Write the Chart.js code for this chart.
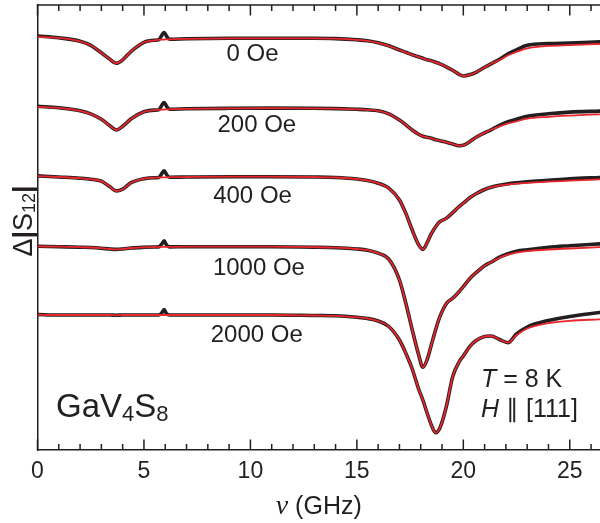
<!DOCTYPE html>
<html>
<head>
<meta charset="utf-8">
<script src="https://cdn.jsdelivr.net/npm/chart.js@4.4.1/dist/chart.umd.min.js"></script>
<style>
  html, body { margin: 0; padding: 0; background: #fff; }
  canvas { display: block; }
</style>
</head>
<body>
<canvas id="c" width="600" height="523"></canvas>
<script>
// frequency grid (GHz) shared by all traces
const freq = [0, 1, 2, 2.5, 3, 3.4, 3.7, 4.0, 4.4, 5.0, 5.5, 5.7, 5.85, 5.95, 6.05, 6.2, 7, 9, 11, 13, 14, 15, 15.5, 16, 16.5,
  17, 17.3, 17.6, 17.9, 18.1, 18.3, 18.5, 18.7, 18.9, 19.2, 19.5, 19.8, 20.0, 20.3, 20.6, 21.0, 21.3, 21.7, 22.1, 22.5, 23.0, 24, 25, 26.4];

// vertical offset of each trace (arb. units)
const offsets = [412.7, 342.7, 273.3, 203.3, 135];
const fields = ['0 Oe', '200 Oe', '400 Oe', '1000 Oe', '2000 Oe'];

// fits (red)
const fit0 = [0.5, -0.5, -4, -8, -15.5, -22, -26, -22.5, -14, -5, -3, -2.5, -2.3, -2.2, -2.1, -2, -1.5, -1, -1, -1, -1.3, -2.5, -3.5, -5.5, -8.5,
  -12.7, -15, -17.5, -19.5, -21, -22.5, -23.5, -25, -26.5, -29.5, -33, -37, -38.7, -37.5, -35, -30, -26.5, -22.7, -18, -14.5, -11, -8.6, -7.8, -6.7];
const fit1 = [0.5, -0.5, -3.5, -6.5, -12, -18.5, -22.7, -19, -11.5, -4.5, -2.8, -2.5, -2.3, -2.2, -2.1, -2, -1.5, -1, -0.8, -1, -1.3, -2, -2.5, -3.5, -6.5,
  -12.7, -17.5, -22.7, -27, -29, -30, -31, -32.5, -33.4, -35, -36.7, -38.4, -38, -34.4, -30, -25.5, -22.5, -19, -16, -14, -11.3, -9.5, -8.3, -7];
const fit2 = [0.5, -0.3, -1.5, -2.5, -4.5, -10, -14.3, -12.5, -6, -2, -1, -0.8, -0.7, -0.6, -0.6, -0.5, -0.3, 0, 0, -0.3, -0.8, -2.3, -3.8, -6.5, -11.5,
  -23.3, -36.7, -53.3, -68, -72.7, -66, -57, -50, -45, -41.7, -36, -30, -26.5, -21, -17, -12.8, -10.5, -8.8, -7.8, -7, -6.2, -5, -4, -2.7];
const fit3 = [0.3, 0, -0.5, -0.8, -1.5, -2.3, -2.7, -2.3, -1.3, -0.6, -0.3, -0.2, -0.2, -0.2, -0.2, -0.2, 0, 0, 0, -0.5, -1, -2.3, -3.5, -6.5, -12.5,
  -33.3, -56.6, -83, -108, -120.6, -113, -98, -83, -70, -57, -51.6, -45, -40, -32, -26, -19, -15.5, -11, -8, -6, -4.5, -2.8, -1.8, -0.5];
const fit4 = [0.3, 0, 0, 0, 0, 0, -0.3, 0, 0, 0, 0, 0, 0, 0, 0, 0, 0, 0, 0, -0.5, -0.8, -2.3, -3.5, -6, -11.5,
  -25, -38.3, -54, -74, -85, -98, -110, -117.7, -113, -91.7, -61.7, -47, -41, -31.7, -25.5, -21.5, -21, -24.5, -27.7, -20, -13.5, -8, -5.8, -4.3];

// measured (black)
const meas0 = [1.3, -0.5, -4, -8, -15.5, -22, -26, -22.5, -14, -5, -3, -2.5, 2.5, 4.8, 1.5, -2, -1.5, -1, -1, -1, -1.3, -2.5, -3.5, -5.5, -8.5,
  -12.7, -15, -17.5, -19.5, -21, -22.5, -23.5, -25, -26.5, -29.5, -33, -37, -38.7, -37.5, -35, -30, -26.5, -22, -16.5, -12.5, -8, -6.3, -5.7, -4.5];
const meas1 = [1.0, -0.5, -3.5, -6.5, -12, -18.5, -22.7, -19, -11.5, -4.5, -2.8, -2.5, 2.5, 4.8, 1.5, -2, -1.5, -1, -0.8, -1, -1.3, -2, -2.5, -3.5, -6.5,
  -12.7, -17.5, -22.7, -27, -29, -30, -31, -32.5, -33.4, -35, -36.7, -38.4, -38, -34.4, -30, -25.5, -22.5, -18, -14.5, -12, -9, -6.5, -4.8, -3.8];
const meas2 = [0.8, -0.3, -1.5, -2.5, -4.5, -10, -14.3, -12.5, -6, -2, -1, -0.8, 3.5, 6, 2.5, -0.5, -0.3, 0, 0, -0.3, -0.8, -2.3, -3.8, -6.5, -11.5,
  -23.3, -36.7, -53.3, -68, -72.7, -66, -57, -50, -45, -41.7, -36, -30, -26.5, -21, -17, -12.8, -10.5, -8.5, -7, -6, -5, -3.5, -2, -0.8];
const meas3 = [0.5, 0, -0.5, -0.8, -1.5, -2.3, -2.7, -2.3, -1.3, -0.6, -0.3, -0.2, 3, 6, 2, -0.2, 0, 0, 0, -0.5, -1, -2.3, -3.5, -6.5, -12.5,
  -33.3, -56.6, -83, -108, -120.6, -113, -98, -83, -70, -57, -51.6, -45, -40, -32, -26, -19, -15.5, -10.5, -7, -4.5, -3, -0.5, 1, 2.8];
const meas4 = [0.5, 0, 0, 0, 0, 0, -0.3, 0, 0, 0, 0, 0, 2.5, 5.5, 1.5, 0, 0, 0, 0, -0.5, -0.8, -2.3, -3.5, -6, -11.5,
  -25, -38.3, -54, -74, -85, -98, -110, -117.7, -113, -91.7, -61.7, -47, -41, -31.7, -25.5, -21.5, -21, -24.5, -27.7, -19, -12, -5.5, -1.5, 2.5];

const fits = [fit0, fit1, fit2, fit3, fit4];
const meas = [meas0, meas1, meas2, meas3, meas4];

// field label placement: centre (GHz) and drop of the text baseline below the trace
const labelX = [10.1, 10.3, 10.1, 10.4, 10.3];
const labelDrop = [23.4, 24.4, 26, 28.3, 26.7];

const ink = '#231f20';
const red = '#e8262b';
const sans = '"Liberation Sans", Arial, sans-serif';

const toXY = (vals, k) => freq.map((f, i) => ({x: f, y: offsets[k] + vals[i]}));

const datasets = [];
meas.forEach((m, k) => datasets.push({data: toXY(m, k), borderColor: ink, borderWidth: 3.6, order: 2}));
fits.forEach((f, k) => datasets.push({data: toXY(f, k), borderColor: red, borderWidth: 1.8, order: 1}));

function runs(ctx, parts, x, y, align) {
    let w = 0;
    parts.forEach(p => { ctx.font = p.font; p.w = ctx.measureText(p.t).width; w += p.w; });
    let cx = align === 'center' ? x - w / 2 : x;
    parts.forEach(p => {
        ctx.font = p.font;
        ctx.fillText(p.t, cx, y + (p.dy || 0));
        cx += p.w;
    });
}

const decor = {
    id: 'decor',
    afterDraw(chart) {
        const {ctx, chartArea: a, scales: {x, y}} = chart;
        ctx.save();
        ctx.strokeStyle = ink;
        ctx.lineWidth = 1.5;
        ctx.beginPath();
        ctx.moveTo(a.left - 0.75, a.top);
        ctx.lineTo(a.right, a.top);
        ctx.stroke();
        // inward ticks, top and bottom
        for (let v = 0; v <= 26; v++) {
            const px = x.getPixelForValue(v);
            const len = v % 5 === 0 ? 10.5 : 6;
            ctx.beginPath();
            ctx.moveTo(px, a.bottom);
            ctx.lineTo(px, a.bottom - len);
            ctx.moveTo(px, a.top);
            ctx.lineTo(px, a.top + len);
            ctx.stroke();
        }

        ctx.fillStyle = ink;
        ctx.textBaseline = 'alphabetic';
        const f24 = '24px ' + sans;
        fields.forEach((t, k) => {
            runs(ctx, [{t, font: f24}], x.getPixelForValue(labelX[k]), y.getPixelForValue(offsets[k] - labelDrop[k]), 'center');
        });

        runs(ctx, [
            {t: 'GaV', font: '33px ' + sans},
            {t: '4', font: '22px ' + sans, dy: 4},
            {t: 'S', font: '33px ' + sans},
            {t: '8', font: '22px ' + sans, dy: 4}
        ], 56, 417, 'left');

        runs(ctx, [
            {t: 'T', font: 'italic 25px ' + sans},
            {t: ' = 8 K', font: '25px ' + sans}
        ], 481, 387, 'left');
        runs(ctx, [
            {t: 'H', font: 'italic 25px ' + sans},
            {t: ' \u2225 [111]', font: '25px ' + sans}
        ], 481, 417, 'left');

        // x title
        runs(ctx, [
            {t: '\u03bd', font: 'italic 28px "Liberation Serif", serif'},
            {t: ' (GHz)', font: '25px ' + sans}
        ], (a.left + a.right) / 2, 514, 'center');

        // y title
        ctx.translate(32, 221);
        ctx.rotate(-Math.PI / 2);
        runs(ctx, [
            {t: '\u0394', font: '27px ' + sans},
            {t: '|', font: 'bold 27px ' + sans},
            {t: 'S', font: '27px ' + sans},
            {t: '12', font: '18px ' + sans, dy: 3},
            {t: '|', font: 'bold 27px ' + sans}
        ], 0, 0, 'center');
        ctx.restore();
    }
};

new Chart(document.getElementById('c'), {
    type: 'line',
    data: {datasets},
    options: {
        responsive: false,
        animation: false,
        devicePixelRatio: 1,
        layout: {padding: {top: 5, right: 0, left: 0, bottom: 0}},
        plugins: {legend: {display: false}, tooltip: {enabled: false}},
        elements: {
            point: {radius: 0},
            line: {cubicInterpolationMode: 'monotone', borderJoinStyle: 'round', borderCapStyle: 'round'}
        },
        scales: {
            x: {
                type: 'linear',
                min: 0,
                max: 26.42,
                ticks: {stepSize: 5, includeBounds: false, color: ink, font: {family: sans, size: 23}, padding: 8, maxRotation: 0},
                grid: {display: false, drawTicks: false},
                border: {display: true, color: ink, width: 1.5},
                afterFit(s) { s.height = 73; }
            },
            y: {
                type: 'linear',
                min: 0,
                max: 445,
                ticks: {display: false},
                grid: {display: false, drawTicks: false},
                border: {display: true, color: ink, width: 1.5},
                afterFit(s) { s.width = 37.5; }
            }
        }
    },
    plugins: [decor]
});
</script>
</body>
</html>
